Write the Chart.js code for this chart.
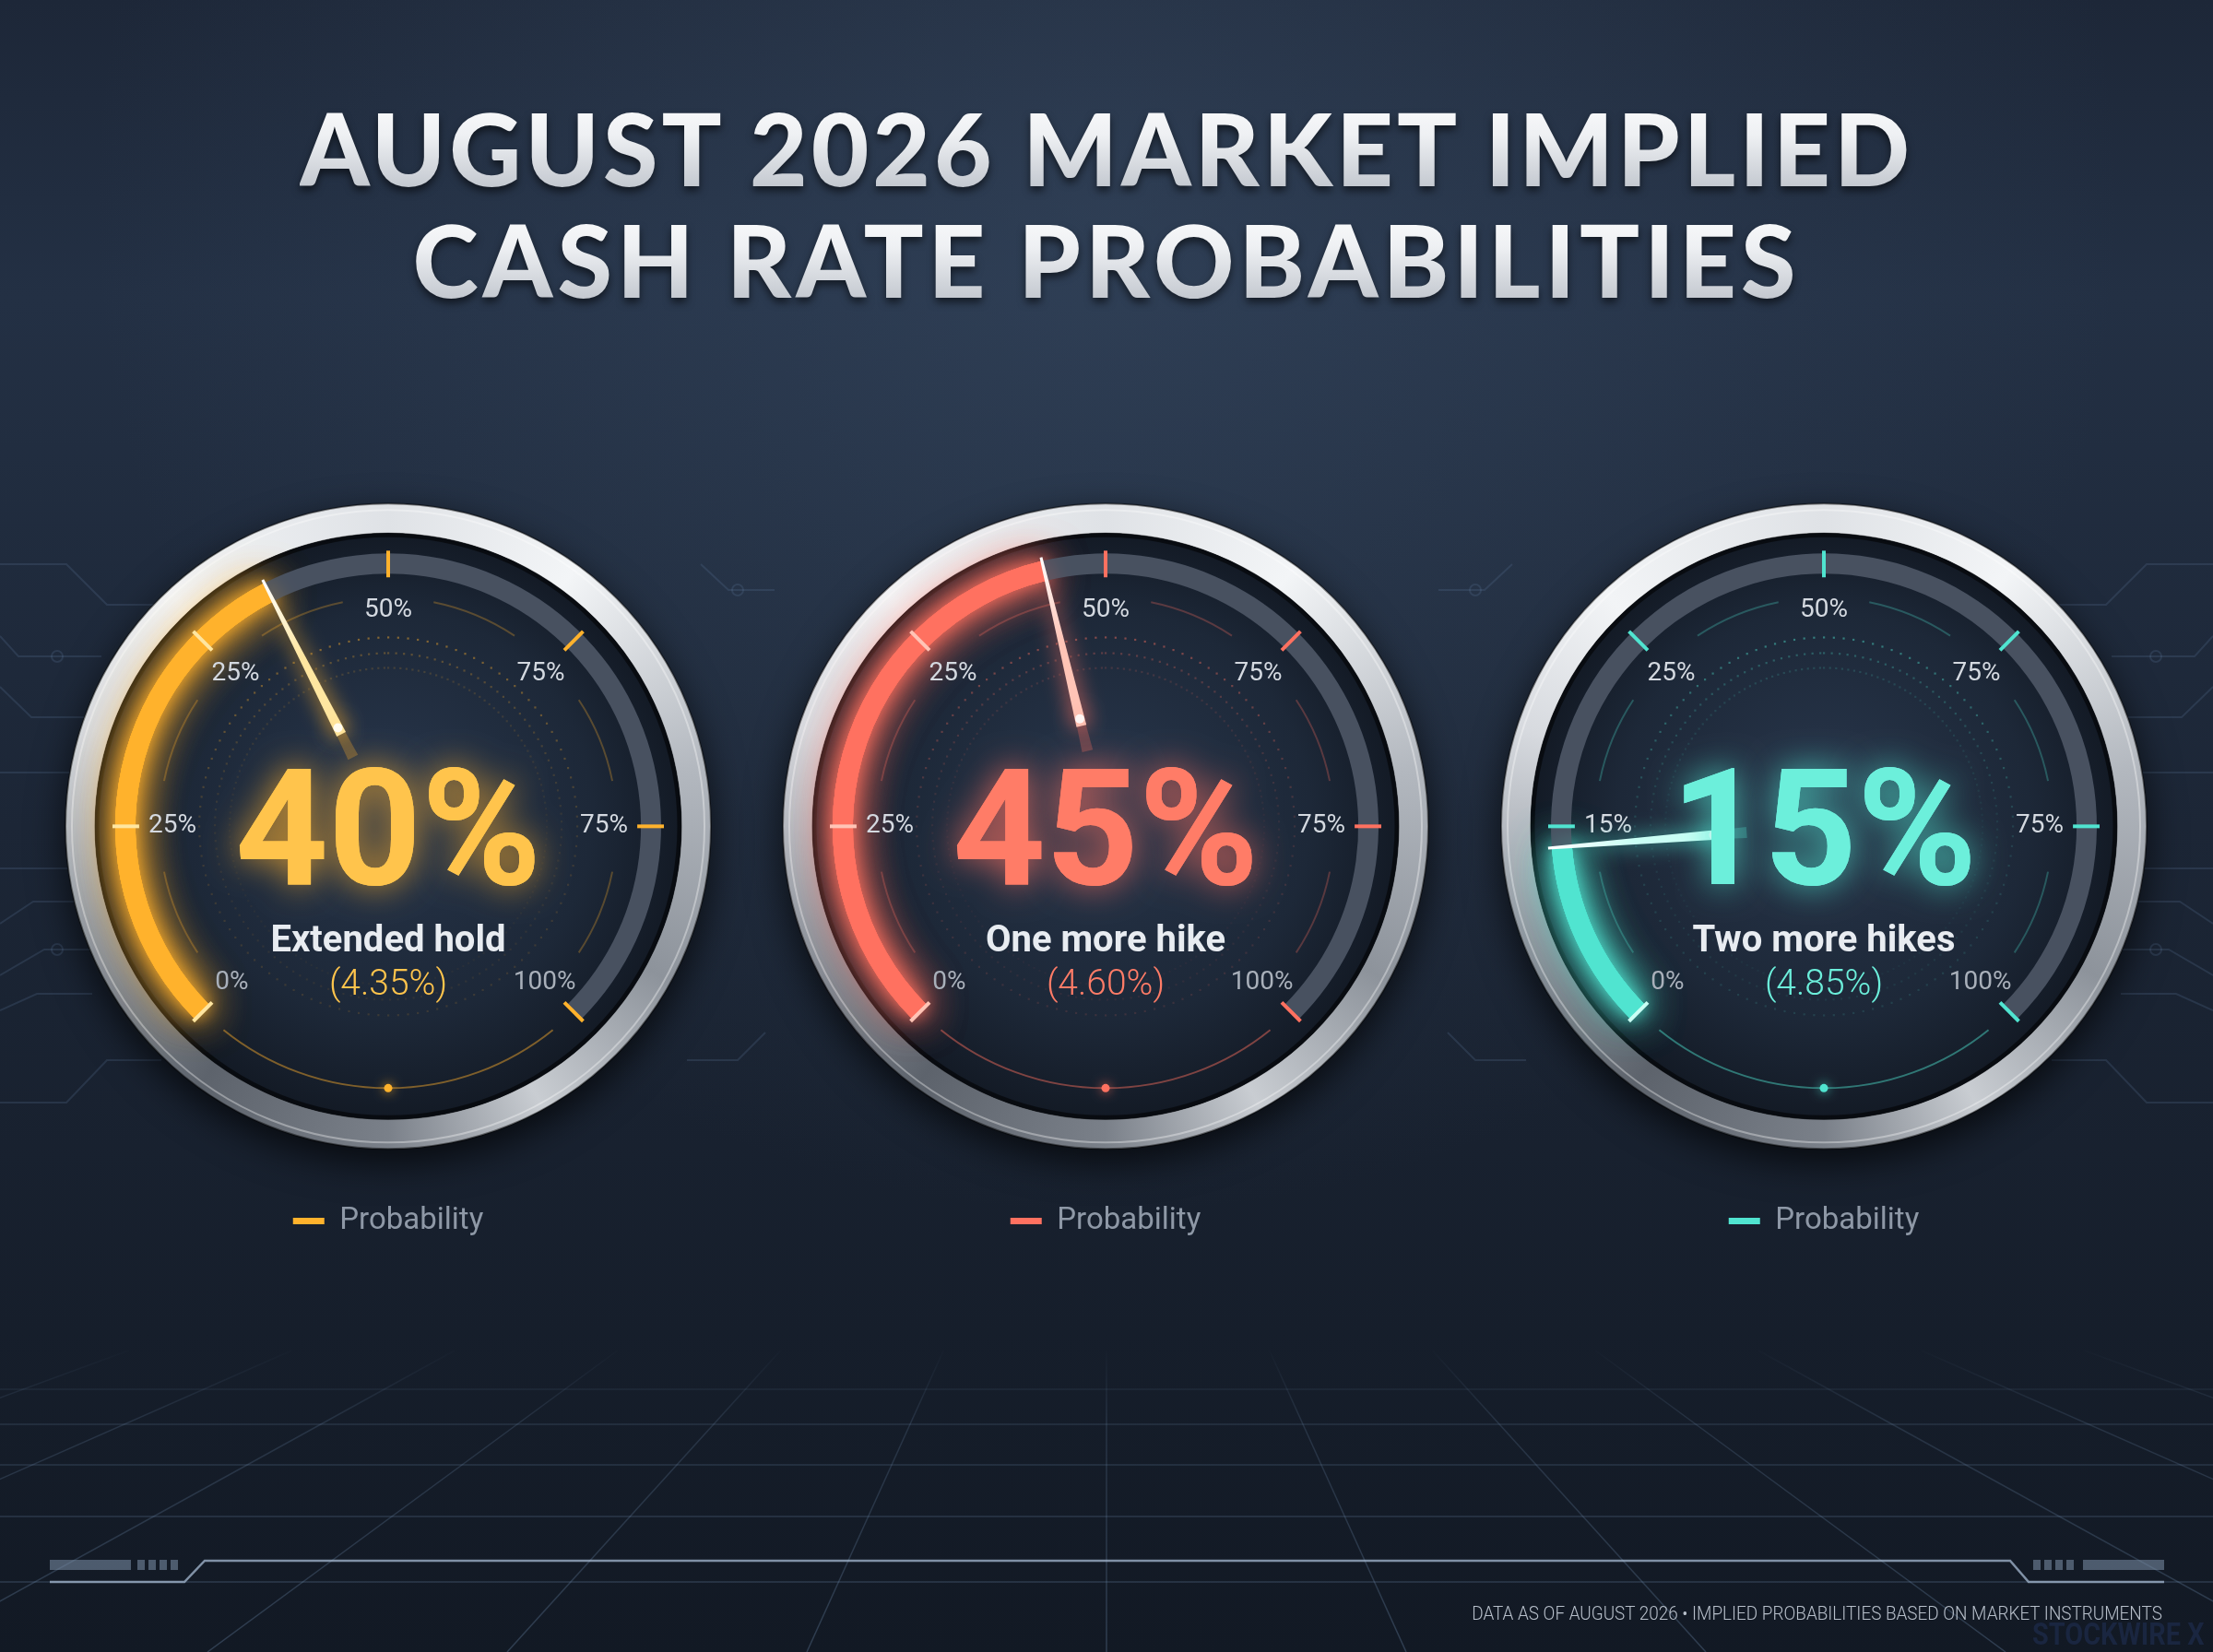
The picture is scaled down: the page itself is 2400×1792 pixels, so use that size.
<!DOCTYPE html>
<html>
<head>
<meta charset="utf-8">
<script src="https://cdn.jsdelivr.net/npm/chart.js@4.4.1/dist/chart.umd.min.js"></script>
<style>
  html, body { margin: 0; padding: 0; width: 2400px; height: 1792px; overflow: hidden; background: #1a2331; }
  #bg { position: absolute; left: 0; top: 0; }
  .title { position: absolute; left: 0; width: 2400px; text-align: center; font-family: 'Lato', 'Open Sans', sans-serif;
    font-weight: 900; font-size: 108px; line-height: 108px; white-space: nowrap; }
  .title span { background: linear-gradient(180deg, #ffffff 0%, #eef0f3 40%, #b3b9c2 100%);
    -webkit-background-clip: text; background-clip: text; color: transparent;
    filter: drop-shadow(0 5px 4px rgba(0, 0, 0, 0.55)); }
  .gauge { position: absolute; top: 408px; width: 800px; height: 963px; }
  .footer { position: absolute; right: 55px; top: 1740px; font: 300 21px 'Roboto', sans-serif; line-height: 21px;
    color: #b7bfca; white-space: nowrap; transform: scaleX(0.9); transform-origin: right center; }
  .mark { position: absolute; right: 10px; top: 1752px; font: 700 34px 'Roboto', sans-serif; color: #1a2640;
    transform: scaleX(0.85); transform-origin: right center; }
</style>
</head>
<body>
<canvas id="bg" width="2400" height="1792"></canvas>
<div class="title" style="top:106px; letter-spacing:4px"><span>AUGUST 2026 MARKET IMPLIED</span></div>
<div class="title" style="top:227px; letter-spacing:5px"><span>CASH RATE PROBABILITIES</span></div>
<div class="gauge" style="left:21px"><canvas id="g0" width="800" height="963"></canvas></div>
<div class="gauge" style="left:799px"><canvas id="g1" width="800" height="963"></canvas></div>
<div class="gauge" style="left:1578px"><canvas id="g2" width="800" height="963"></canvas></div>
<div class="footer">DATA AS OF AUGUST 2026 • IMPLIED PROBABILITIES BASED ON MARKET INSTRUMENTS</div>
<div class="mark">STOCKWIRE X</div>
<script>
// values
const scenarios = ['Extended hold', 'One more hike', 'Two more hikes'];
const cashRates = [4.35, 4.60, 4.85];
const probabilities = [40, 45, 15];
const seriesName = 'Probability';
const dialLabels = [
  ['0%', '25%', '25%', '50%', '75%', '75%', '100%'],
  ['0%', '25%', '25%', '50%', '75%', '75%', '100%'],
  ['0%', '15%', '25%', '50%', '75%', '75%', '100%']
];

const themes = [
  { arc: '#ffb22c', text: '#ffc44c', light: '#ffe6a0', rgb: '255,176,44' },
  { arc: '#ff7160', text: '#ff7c67', light: '#ffc4b6', rgb: '255,113,96' },
  { arc: '#50e4d0', text: '#6cefdb', light: '#cafff5', rgb: '80,228,208' }
];

const TAU = Math.PI * 2;

// ---------- background ----------
(function drawBackground() {
  const c = document.getElementById('bg');
  const ctx = c.getContext('2d');
  let g = ctx.createLinearGradient(0, 0, 0, 1792);
  g.addColorStop(0, '#1d2738');
  g.addColorStop(0.18, '#233044');
  g.addColorStop(0.5, '#1c2636');
  g.addColorStop(1, '#121924');
  ctx.fillStyle = g;
  ctx.fillRect(0, 0, 2400, 1792);
  g = ctx.createRadialGradient(1200, 220, 0, 1200, 220, 1100);
  g.addColorStop(0, 'rgba(70,92,120,0.35)');
  g.addColorStop(1, 'rgba(70,92,120,0)');
  ctx.fillStyle = g;
  ctx.fillRect(0, 0, 2400, 1792);

  // circuit traces on the sides
  const traces = [
    [[0, 612], [72, 612], [116, 656], [175, 656]],
    [[0, 690], [20, 712], [110, 712]],
    [[0, 745], [34, 778], [110, 778]],
    [[0, 838], [110, 838]],
    [[0, 942], [110, 942]],
    [[0, 1002], [36, 978], [110, 978]],
    [[0, 1058], [48, 1030], [110, 1030]],
    [[0, 1096], [40, 1078], [100, 1078]],
    [[0, 1196], [72, 1196], [116, 1150], [175, 1150]],
    [[760, 612], [790, 640], [840, 640]],
    [[745, 1150], [800, 1150], [830, 1120]]
  ];
  const nodes = [[62, 712], [62, 1030], [800, 640]];
  ctx.lineWidth = 2;
  ctx.strokeStyle = 'rgba(95,125,160,0.22)';
  [false, true].forEach(mirror => {
    traces.forEach(t => {
      ctx.beginPath();
      t.forEach((p, i) => {
        const x = mirror ? 2400 - p[0] : p[0];
        i ? ctx.lineTo(x, p[1]) : ctx.moveTo(x, p[1]);
      });
      ctx.stroke();
    });
    nodes.forEach(n => {
      ctx.beginPath();
      ctx.arc(mirror ? 2400 - n[0] : n[0], n[1], 6, 0, TAU);
      ctx.stroke();
    });
  });

  // perspective floor grid
  const vx = 1200, vy = 1075;
  g = ctx.createLinearGradient(0, 1460, 0, 1792);
  g.addColorStop(0, 'rgba(110,140,175,0)');
  g.addColorStop(0.25, 'rgba(110,140,175,0.2)');
  g.addColorStop(1, 'rgba(110,140,175,0.32)');
  ctx.strokeStyle = g;
  ctx.lineWidth = 1.5;
  for (let k = -9; k <= 9; k++) {
    const bx = vx + 325 * k;
    const t = (1465 - vy) / (1792 - vy);
    ctx.beginPath();
    ctx.moveTo(vx + (bx - vx) * t, 1465);
    ctx.lineTo(bx, 1792);
    ctx.stroke();
  }
  [1507, 1545, 1589, 1645, 1716].forEach(y => {
    ctx.beginPath();
    ctx.moveTo(0, y);
    ctx.lineTo(2400, y);
    ctx.stroke();
  });

  // footer frame
  ctx.strokeStyle = 'rgba(165,185,210,0.75)';
  ctx.lineWidth = 2.5;
  ctx.beginPath();
  ctx.moveTo(54, 1716); ctx.lineTo(200, 1716); ctx.lineTo(222, 1693);
  ctx.lineTo(2180, 1693); ctx.lineTo(2200, 1716); ctx.lineTo(2347, 1716);
  ctx.stroke();
  ctx.fillStyle = 'rgba(125,145,170,0.55)';
  ctx.fillRect(54, 1692, 88, 11);
  ctx.fillRect(2259, 1692, 88, 11);
  for (let i = 0; i < 4; i++) {
    ctx.fillRect(149 + i * 12, 1692, 8, 11);
    ctx.fillRect(2205 + i * 12, 1692, 8, 11);
  }
})();

// ---------- gauge plugin ----------
const gaugePlugin = {
  id: 'gauge',
  beforeDatasetsDraw(chart, args, opts) {
    const meta = chart.getDatasetMeta(0);
    const arc = meta.data[0];
    const { x, y, outerRadius: R } = arc.getProps(['x', 'y', 'outerRadius'], true);
    const th = opts.theme;
    const ctx = chart.ctx;
    ctx.save();
    // drop shadow under the dial
    ctx.shadowColor = 'rgba(0,0,0,0.7)';
    ctx.shadowBlur = 40;
    ctx.shadowOffsetY = 14;
    ctx.beginPath();
    ctx.arc(x, y, R + 54, 0, TAU);
    ctx.fillStyle = '#10161f';
    ctx.fill();
    ctx.restore();

    // silver bezel
    ctx.save();
    const cg = ctx.createConicGradient(-Math.PI / 2, x, y);
    cg.addColorStop(0, '#dfe2e6');
    cg.addColorStop(0.1, '#f3f5f7');
    cg.addColorStop(0.22, '#b3b8bf');
    cg.addColorStop(0.33, '#8d939b');
    cg.addColorStop(0.42, '#c9cdd2');
    cg.addColorStop(0.5, '#7a8089');
    cg.addColorStop(0.6, '#5d636c');
    cg.addColorStop(0.7, '#959ba3');
    cg.addColorStop(0.8, '#d7dadf');
    cg.addColorStop(0.88, '#f2f4f6');
    cg.addColorStop(1, '#dfe2e6');
    ctx.beginPath();
    ctx.arc(x, y, R + 54, 0, TAU);
    ctx.arc(x, y, R + 22, 0, TAU, true);
    ctx.fillStyle = cg;
    ctx.fill();
    ctx.lineWidth = 2;
    ctx.strokeStyle = 'rgba(0,0,0,0.45)';
    ctx.beginPath(); ctx.arc(x, y, R + 54, 0, TAU); ctx.stroke();
    ctx.strokeStyle = 'rgba(255,255,255,0.35)';
    ctx.beginPath(); ctx.arc(x, y, R + 47, 0, TAU); ctx.stroke();

    // dial face
    const fg = ctx.createRadialGradient(x, y - 40, 0, x, y, R + 22);
    fg.addColorStop(0, '#27354a');
    fg.addColorStop(0.7, '#1d2838');
    fg.addColorStop(1, '#131a25');
    ctx.beginPath();
    ctx.arc(x, y, R + 22, 0, TAU);
    ctx.fillStyle = fg;
    ctx.fill();
    ctx.lineWidth = 5;
    ctx.strokeStyle = 'rgba(0,0,0,0.55)';
    ctx.beginPath(); ctx.arc(x, y, R + 20, 0, TAU); ctx.stroke();

    // faint inner rings and dots
    const c = th.rgb;
    [[205, 0.45, 3.0], [188, 0.28, 2.6], [172, 0.16, 2.2]].forEach(([r, a, step]) => {
      for (let d = 0; d < 360; d += step) {
        const ang = d * Math.PI / 180 - Math.PI / 2;
        const top = Math.cos(d * Math.PI / 180);
        const alpha = a * (0.3 + 0.7 * Math.max(0, top));
        ctx.fillStyle = `rgba(${c},${alpha.toFixed(3)})`;
        ctx.fillRect(x + r * Math.cos(ang) - 1, y + r * Math.sin(ang) - 1, 2.2, 2.2);
      }
    });

    // thin arcs between the dial labels
    const start = meta.data[0].startAngle;
    const span = meta.data[1].endAngle - start;
    const n = opts.labels.length;
    ctx.lineWidth = 2;
    ctx.strokeStyle = `rgba(${c},0.28)`;
    for (let k = 0; k < n - 1; k++) {
      const a0 = start + span * k / (n - 1) + 0.2;
      const a1 = start + span * (k + 1) / (n - 1) - 0.2;
      ctx.beginPath();
      ctx.arc(x, y, R - 48, a0, a1);
      ctx.stroke();
    }
    // bottom arc and dot
    ctx.strokeStyle = `rgba(${c},0.45)`;
    ctx.beginPath();
    ctx.arc(x, y, R - 12, Math.PI / 2 - 0.68, Math.PI / 2 + 0.68);
    ctx.stroke();
    ctx.shadowColor = `rgba(${c},0.9)`;
    ctx.shadowBlur = 12;
    ctx.fillStyle = th.arc;
    ctx.beginPath();
    ctx.arc(x, y + R - 12, 4.5, 0, TAU);
    ctx.fill();
    ctx.restore();

    // glow behind the value arc
    ctx.save();
    ctx.shadowColor = `rgba(${c},0.95)`;
    ctx.shadowBlur = 46;
    arc.draw(ctx);
    arc.draw(ctx);
    ctx.shadowBlur = 18;
    arc.draw(ctx);
    ctx.restore();
  },
  afterDatasetsDraw(chart, args, opts) {
    const meta = chart.getDatasetMeta(0);
    const arc = meta.data[0];
    const { x, y, outerRadius: R, innerRadius: r } = arc.getProps(['x', 'y', 'outerRadius', 'innerRadius'], true);
    const th = opts.theme;
    const ctx = chart.ctx;
    const start = arc.startAngle;
    const valueEnd = arc.endAngle;
    const span = meta.data[1].endAngle - start;
    const n = opts.labels.length;

    ctx.save();
    // ticks and dial labels
    for (let k = 0; k < n; k++) {
      const a = start + span * k / (n - 1);
      const cs = Math.cos(a), sn = Math.sin(a);
      ctx.lineWidth = 4;
      ctx.strokeStyle = a <= valueEnd + 0.001 ? th.light : th.arc;
      ctx.beginPath();
      ctx.moveTo(x + (r - 4) * cs, y + (r - 4) * sn);
      ctx.lineTo(x + (R + 3) * cs, y + (R + 3) * sn);
      ctx.stroke();
      ctx.font = '400 28px Roboto';
      ctx.textAlign = 'center';
      ctx.textBaseline = 'middle';
      ctx.fillStyle = (k === 0 || k === n - 1) ? '#a9b0ba' : '#d4d9e0';
      const lr = (k === 0 || k === n - 1) ? 240 : 234;
      ctx.fillText(opts.labels[k], x + lr * cs, y + lr * sn);
    }

    // needle
    const cs = Math.cos(valueEnd), sn = Math.sin(valueEnd);
    const px = -sn, py = cs;
    const r0 = 84, r1 = 112, r2 = R + 4;
    ctx.fillStyle = `rgba(${th.rgb},0.28)`;
    ctx.beginPath();
    ctx.moveTo(x + r0 * cs + 6 * px, y + r0 * sn + 6 * py);
    ctx.lineTo(x + r1 * cs + 5 * px, y + r1 * sn + 5 * py);
    ctx.lineTo(x + r1 * cs - 5 * px, y + r1 * sn - 5 * py);
    ctx.lineTo(x + r0 * cs - 6 * px, y + r0 * sn - 6 * py);
    ctx.closePath();
    ctx.fill();
    ctx.shadowColor = `rgba(${th.rgb},0.95)`;
    ctx.shadowBlur = 22;
    const ng = ctx.createLinearGradient(x + r1 * cs, y + r1 * sn, x + r2 * cs, y + r2 * sn);
    ng.addColorStop(0, th.light);
    ng.addColorStop(0.5, th.light);
    ng.addColorStop(1, '#ffffff');
    ctx.fillStyle = ng;
    ctx.beginPath();
    ctx.moveTo(x + r1 * cs + 5.5 * px, y + r1 * sn + 5.5 * py);
    ctx.lineTo(x + r2 * cs + 1.5 * px, y + r2 * sn + 1.5 * py);
    ctx.lineTo(x + r2 * cs - 1.5 * px, y + r2 * sn - 1.5 * py);
    ctx.lineTo(x + r1 * cs - 5.5 * px, y + r1 * sn - 5.5 * py);
    ctx.closePath();
    ctx.fill();
    ctx.fillStyle = 'rgba(255,255,255,0.85)';
    ctx.beginPath();
    ctx.arc(x + (r1 + 8) * cs, y + (r1 + 8) * sn, 5, 0, TAU);
    ctx.fill();

    // centre texts
    const value = chart.data.datasets[0].data[0];
    ctx.textAlign = 'center';
    ctx.textBaseline = 'alphabetic';
    ctx.font = '700 176px Roboto';
    ctx.shadowColor = `rgba(${th.rgb},0.8)`;
    ctx.shadowBlur = 36;
    ctx.fillStyle = th.text;
    ctx.fillText(value + '%', x, y + 63);
    ctx.shadowBlur = 0;
    ctx.fillText(value + '%', x, y + 63);
    ctx.font = '700 40px Roboto';
    ctx.fillStyle = '#e8ecf1';
    ctx.fillText(opts.scenario, x, y + 136);
    ctx.font = '300 39px Roboto';
    ctx.fillStyle = th.text;
    ctx.fillText('(' + opts.rate.toFixed(2) + '%)', x, y + 183);
    ctx.restore();
  }
};

probabilities.forEach((p, i) => {
  const th = themes[i];
  new Chart(document.getElementById('g' + i), {
    type: 'doughnut',
    data: {
      labels: [seriesName, 'Remaining'],
      datasets: [{
        label: seriesName,
        data: [p, 100 - p],
        backgroundColor: [th.arc, '#485160'],
        borderWidth: 0,
        hoverOffset: 0
      }]
    },
    options: {
      responsive: false,
      animation: false,
      events: [],
      rotation: -135,
      circumference: 270,
      radius: 296,
      cutout: '92.6%',
      layout: { padding: { top: 0, bottom: 20, left: 0, right: 0 } },
      plugins: {
        tooltip: { enabled: false },
        legend: {
          position: 'bottom',
          labels: {
            color: '#8e98a6',
            font: { family: 'Roboto', size: 33, weight: '400' },
            boxWidth: 34,
            boxHeight: 7,
            padding: 10,
            generateLabels: () => [{
              text: seriesName, fillStyle: th.arc, strokeStyle: th.arc, lineWidth: 0,
              hidden: false, datasetIndex: 0, fontColor: '#8e98a6'
            }]
          }
        },
        gauge: { theme: th, labels: dialLabels[i], scenario: scenarios[i], rate: cashRates[i] }
      }
    },
    plugins: [gaugePlugin]
  });
});
</script>
</body>
</html>
